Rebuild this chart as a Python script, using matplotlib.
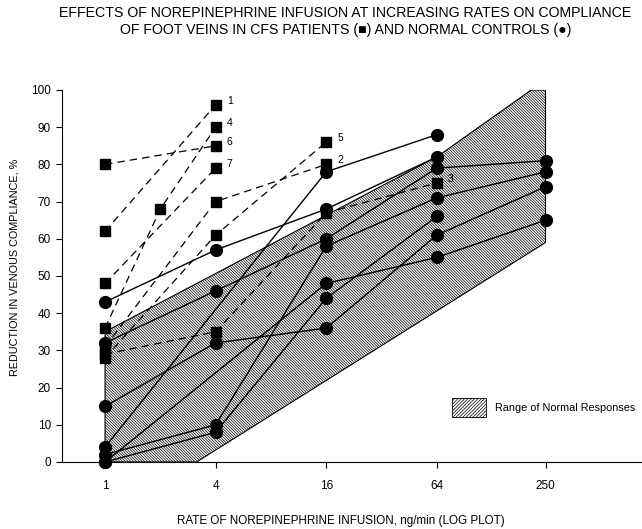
import numpy as np
import matplotlib
matplotlib.use('Agg')
import matplotlib.pyplot as plt
from matplotlib.patches import Patch
from matplotlib.ticker import NullLocator

plt.rcParams['font.family'] = ['Liberation Sans', 'DejaVu Sans']
plt.rcParams['hatch.linewidth'] = 0.5

# infusion rates, ng/min (log plot)
rates = [1, 2, 4, 16, 64, 250]
tick_rates = [1, 4, 16, 64, 250]
tick_labels = ['1', '4', '16', '64', '250']

# CFS patients (squares, dashed lines), nan = no measurement
cfs_labels = ['1', '2', '3', '4', '5', '6', '7']
cfs_1 = [62, np.nan, 96, np.nan, np.nan, np.nan]
cfs_2 = [31, np.nan, 70, 80, np.nan, np.nan]
cfs_3 = [29, np.nan, 35, 67, 75, np.nan]
cfs_4 = [36, 68, 90, np.nan, np.nan, np.nan]
cfs_5 = [28, np.nan, 61, 86, np.nan, np.nan]
cfs_6 = [80, np.nan, 85, np.nan, np.nan, np.nan]
cfs_7 = [48, np.nan, 79, np.nan, np.nan, np.nan]
cfs_all = [cfs_1, cfs_2, cfs_3, cfs_4, cfs_5, cfs_6, cfs_7]

# normal controls (circles, solid lines)
ctl_1 = [43, np.nan, 57, 68, 82, np.nan]
ctl_2 = [4, np.nan, np.nan, 78, 88, np.nan]
ctl_3 = [32, np.nan, 46, 60, 79, 81]
ctl_4 = [2, np.nan, 10, 58, 71, 78]
ctl_5 = [0, np.nan, 8, 44, 66, np.nan]
ctl_6 = [15, np.nan, 32, 36, 61, 74]
ctl_7 = [0, np.nan, np.nan, 48, 55, 65]
ctl_all = [ctl_1, ctl_2, ctl_3, ctl_4, ctl_5, ctl_6, ctl_7]

# outline of the range of normal responses
norm_x = [1, 1, 64, 209, 250, 250, 3.15]
norm_y = [0, 35, 82, 100, 100, 59, 0]


def valid(vals):
    x = np.array(rates, dtype=float)
    y = np.array(vals, dtype=float)
    ok = ~np.isnan(y)
    return x[ok], y[ok]


fig = plt.figure(figsize=(6.42, 5.29), dpi=100)
ax = fig.add_axes([62/642, 1-462/529, 580/642, 372/529])

# hatched normal range
ax.fill(norm_x, norm_y, facecolor='white', edgecolor='black', linewidth=0.8,
        hatch='\\' * 12, zorder=1)

# controls
for c in ctl_all:
    x, y = valid(c)
    ax.plot(x, y, color='black', linewidth=1.0, marker='o', markersize=8.5,
            clip_on=False, zorder=3)

# patients
for lab, p in zip(cfs_labels, cfs_all):
    x, y = valid(p)
    ax.plot(x, y, color='black', linewidth=0.9, dashes=(6, 4), marker='s',
            markersize=7, clip_on=False, zorder=4)
    ax.annotate(lab, (x[-1], y[-1]), xytext=(8, 3), textcoords='offset points',
                fontsize=7.5, va='center')

ax.set_xscale('log', base=2)
ax.set_xlim(0.583, 838)
ax.set_ylim(0, 100)
ax.set_xticks(tick_rates)
ax.set_xticklabels(tick_labels)
ax.xaxis.set_minor_locator(NullLocator())
ax.set_yticks(np.arange(0, 101, 10))
ax.tick_params(direction='out', length=4, width=0.8, labelsize=8.5, pad=4)
ax.tick_params(axis='x', pad=9)

for s in ['top', 'right']:
    ax.spines[s].set_visible(False)
ax.spines['left'].set_linewidth(0.8)
ax.spines['bottom'].set_linewidth(0.8)

ax.set_ylabel('REDUCTION IN VENOUS COMPLIANCE, %', fontsize=7.8)
ax.yaxis.set_label_coords(-0.074, 0.524)
ax.set_xlabel('RATE OF NOREPINEPHRINE INFUSION, ng/min (LOG PLOT)', fontsize=8.4)
ax.xaxis.set_label_coords(0.481, -0.143)

ax.legend(handles=[Patch(facecolor='white', edgecolor='black', linewidth=0.6,
                         hatch='/' * 10, label='Range of Normal Responses')],
          loc='lower left', bbox_to_anchor=(0.655, 0.095), frameon=False,
          fontsize=7.8, handlelength=3.2, handleheight=2.3, handletextpad=0.8)

fig.text(0.538, 1-6/529,
         'EFFECTS OF NOREPINEPHRINE INFUSION AT INCREASING RATES ON COMPLIANCE\n'
         'OF FOOT VEINS IN CFS PATIENTS (\u25A0) AND NORMAL CONTROLS (\u25CF)',
         ha='center', va='top', fontsize=10.2, linespacing=1.3)

fig.savefig('out.png', dpi=100)
